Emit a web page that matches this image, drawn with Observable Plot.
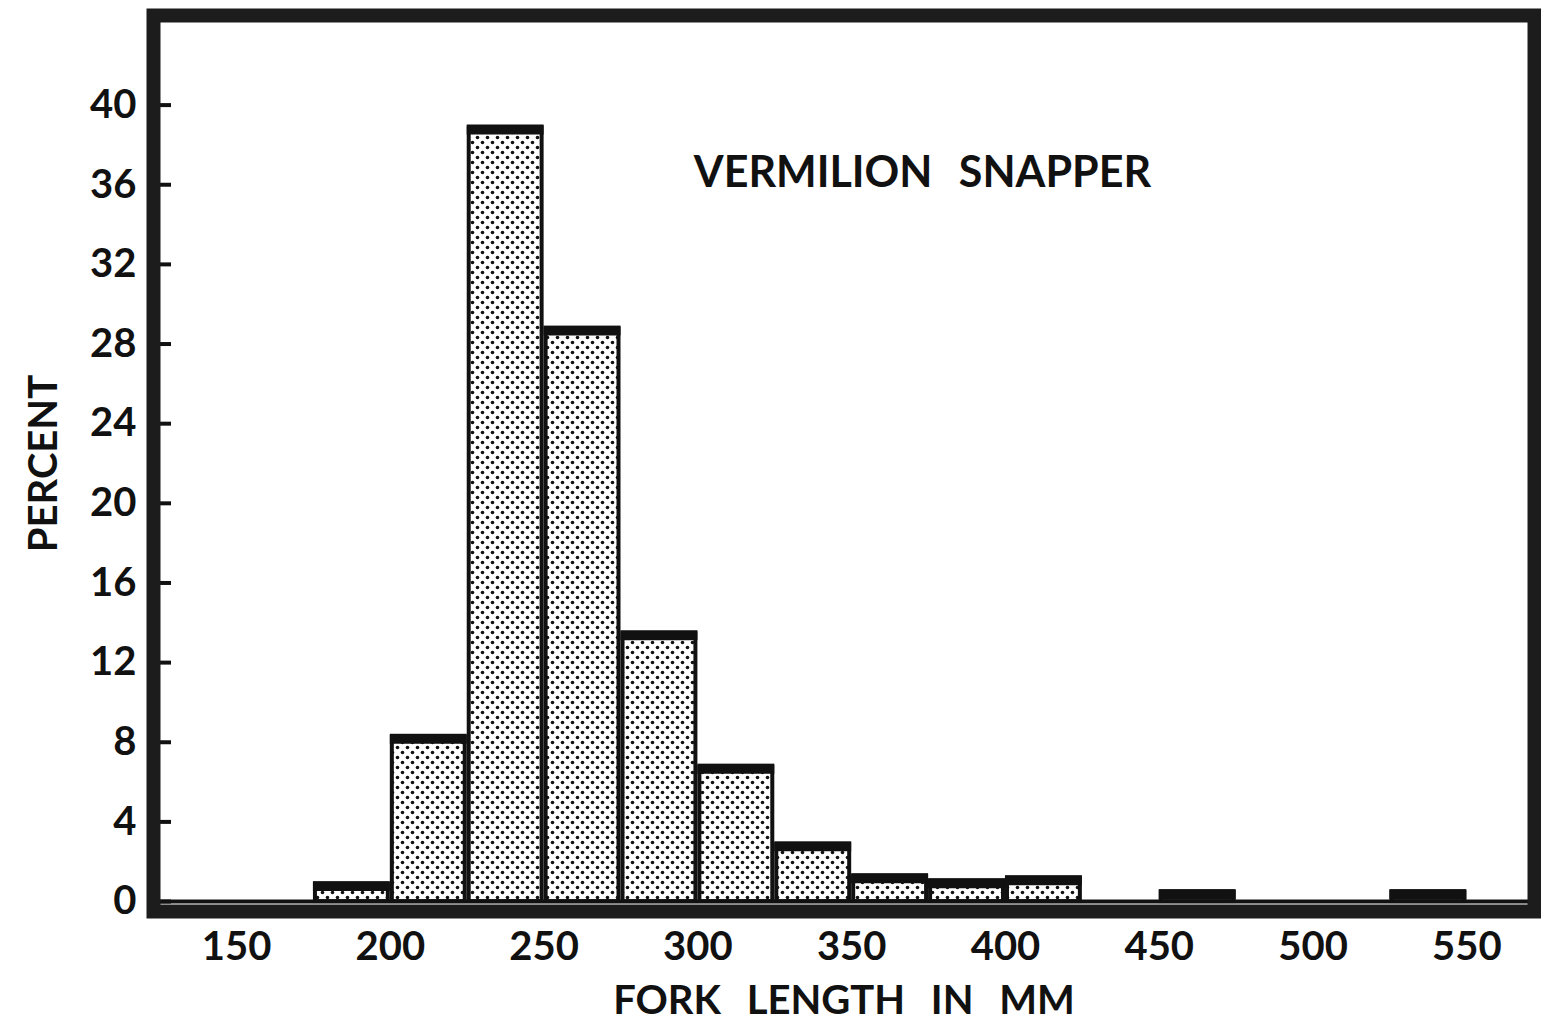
<!DOCTYPE html>
<html>
<head>
<meta charset="utf-8">
<script src="https://cdn.jsdelivr.net/npm/d3@7"></script>
<script src="https://cdn.jsdelivr.net/npm/@observablehq/plot@0.6"></script>
<style>
html, body { margin: 0; padding: 0; background: #fff; }
#chart svg { display: block; }
</style>
</head>
<body>
<div id="chart"></div>
<script>
// ---- data ----
const binStarts = [175, 200, 225, 250, 275, 300, 325, 350, 375, 400, 425, 450, 475, 500, 525];
const binEnds   = [200, 225, 250, 275, 300, 325, 350, 375, 400, 425, 450, 475, 500, 525, 550];
const percents  = [0.9, 8.3, 38.9, 28.8, 13.5, 6.8, 2.9, 1.3, 1.05, 1.2, 0, 0.5, 0, 0, 0.5];
const yTicks = [0, 4, 8, 12, 16, 20, 24, 28, 32, 36, 40];
const xTicks = [150, 200, 250, 300, 350, 400, 450, 500, 550];
const titleText = ["VERMILION SNAPPER"];
const titleAt = [373, 36.6]; // fork length (mm), percent
const xLabel = "FORK LENGTH IN MM";
const yLabel = "PERCENT";

const bins = binStarts.map((s, i) => ({ x1: s, x2: binEnds[i], pct: percents[i] })).filter(d => d.pct > 0);

const ink = "#111";
const chart = Plot.plot({
  width: 1541,
  height: 1029,
  marginLeft: 153,
  marginRight: 7,
  marginTop: 15,
  marginBottom: 118,
  style: { fontFamily: "Lato, 'Open Sans', sans-serif", fontWeight: 700, fontSize: "40px", color: ink, background: "#fff", wordSpacing: "0.4em" },
  x: { domain: [123, 572], label: xLabel, labelArrow: "none" },
  y: { domain: [-0.5, 44.5], label: yLabel, labelArrow: "none" },
  marks: [
    Plot.ruleY([0], { stroke: ink, strokeWidth: 4 }),
    Plot.rectY(bins, { x1: "x1", x2: "x2", y1: 0, y2: "pct", fill: "url(#dots)", stroke: ink, strokeWidth: 4, insetLeft: 2, insetRight: 2 }),
    Plot.ruleY(bins, { x1: "x1", x2: "x2", y: "pct", stroke: ink, strokeWidth: 9, dy: 3 }),
    Plot.axisY(yTicks, { tickSize: -18, tickPadding: 35, strokeWidth: 4, label: yLabel, labelArrow: "none", labelAnchor: "center", labelOffset: 125, fontSize: 40, fontWeight: 700 }),
    Plot.axisX(xTicks, { tickSize: 0, tickPadding: 20, label: xLabel, labelArrow: "none", labelAnchor: "center", labelOffset: 102, fontSize: 40, fontWeight: 700 }),
    Plot.frame({ stroke: "#1c1c1c", strokeWidth: 14 }),
    Plot.text(titleText, { x: () => titleAt[0], y: () => titleAt[1], fontSize: 43, fontWeight: 700 })
  ]
});

d3.select(chart).insert("defs", ":first-child").html(
  `<pattern id="dots" width="10" height="10" patternUnits="userSpaceOnUse">
     <rect width="10" height="10" fill="#fff"/>
     <circle cx="2.5" cy="2.5" r="1.8" fill="#111"/>
     <circle cx="7.5" cy="7.5" r="1.8" fill="#111"/>
   </pattern>`
);
document.getElementById("chart").appendChild(chart);
</script>
</body>
</html>
